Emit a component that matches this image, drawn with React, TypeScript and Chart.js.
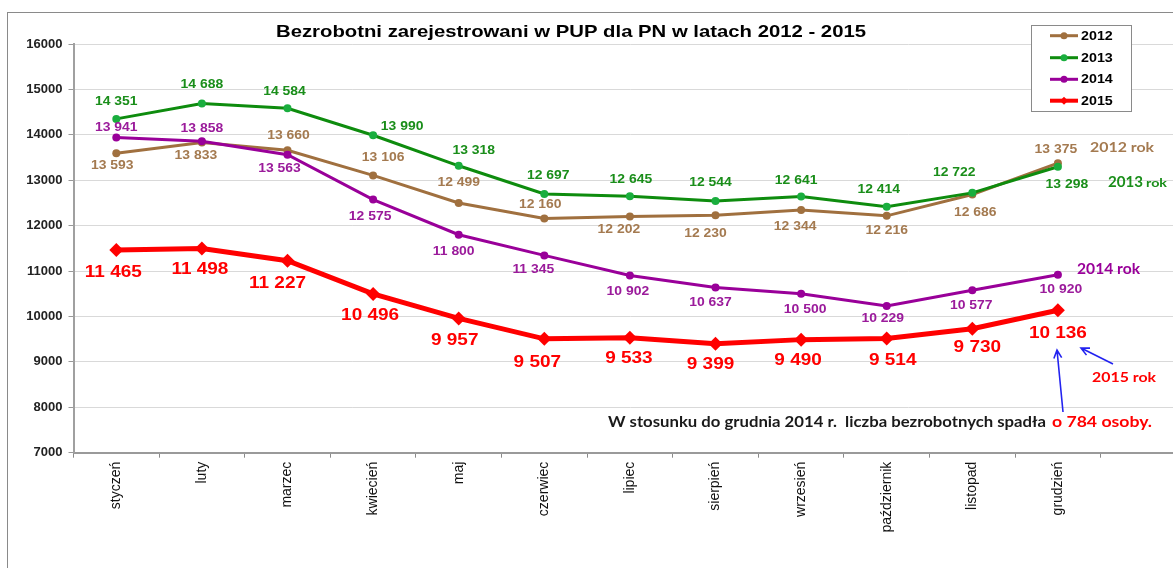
import React, { useEffect, useRef } from 'react';
import { Chart, registerables } from 'chart.js';

Chart.register(...registerables);

// ---------- data ----------
const months = ['styczeń', 'luty', 'marzec', 'kwiecień', 'maj', 'czerwiec', 'lipiec', 'sierpień', 'wrzesień', 'październik', 'listopad', 'grudzień'];
const axisLabels = [...months, ''];
const years = ['2012', '2013', '2014', '2015'];
const values2012 = [13593, 13833, 13660, 13106, 12499, 12160, 12202, 12230, 12344, 12216, 12686, 13375];
const values2013 = [14351, 14688, 14584, 13990, 13318, 12697, 12645, 12544, 12641, 12414, 12722, 13298];
const values2014 = [13941, 13858, 13563, 12575, 11800, 11345, 10902, 10637, 10500, 10229, 10577, 10920];
const values2015 = [11465, 11498, 11227, 10496, 9957, 9507, 9533, 9399, 9490, 9514, 9730, 10136];
const yMin = 7000;
const yMax = 16000;
const yStep = 1000;
const titleText = 'Bezrobotni zarejestrowani w PUP dla PN w latach 2012 - 2015';
const noteText = 'W stosunku do grudnia 2014 r.  liczba bezrobotnych spadła';
const noteRed = 'o 784 osoby.';

// label offsets (px) relative to each point
const offsets2012 = [[-4, 12], [-6, 13], [1, -15], [10, -18], [0, -20], [-4, -14], [-11, 13], [-10, 18], [-6, 17], [0, 15], [3, 18], [-2, -14]];
const offsets2013 = [[0, -17], [0, -19], [-3, -17], [29, -9], [15, -15], [4, -18], [1, -17], [-5, -18], [-5, -16], [-8, -17], [-18, -20], [9, 18]];
const offsets2014 = [[0, -10], [0, -13], [-8, 14], [-3, 17], [-5, 17], [-11, 14], [-2, 16], [-5, 15], [4, 16], [-4, 13], [-1, 15], [3, 15]];
const offsets2015 = [[-3, 23], [-2, 21], [-10, 23], [-3, 22], [-4, 22], [-7, 24], [-1, 21], [-5, 21], [-3, 21], [6, 22], [5, 19], [0, 23]];

// ---------- styles ----------
const FONT = '"Liberation Sans", Arial, sans-serif';
const FONT2 = 'Lato, "Open Sans", sans-serif';
const BROWN = '#A0703F';
const BROWN_L = '#A47A50';
const GREEN = '#0E8C0E';
const GREEN_M = '#1AAE3E';
const GREEN_L = '#1A8E1A';
const PURPLE = '#990099';
const PURPLE_L = '#9B1B9B';
const RED = '#FF0000';
const BLUE = '#2323F0';

const CW = 1200;
const CH = 568;

const fmt = (v: number) => {
  const k = Math.floor(v / 1000);
  const r = String(v % 1000).padStart(3, '0');
  return `${k} ${r}`;
};

function txt(ctx: CanvasRenderingContext2D, s: string, x: number, y: number, font: string, color: string, align: CanvasTextAlign = 'center', sx = 1) {
  ctx.save();
  ctx.translate(x, y);
  ctx.scale(sx, 1);
  ctx.font = font;
  ctx.fillStyle = color;
  ctx.textAlign = align;
  ctx.textBaseline = 'middle';
  ctx.fillText(s, 0, 0);
  ctx.restore();
}

function fit(ctx: CanvasRenderingContext2D, s: string, x0: number, x1: number, y: number, font: string, color: string) {
  ctx.save();
  ctx.font = font;
  const w = ctx.measureText(s).width;
  ctx.restore();
  txt(ctx, s, x0, y, font, color, 'left', (x1 - x0) / w);
}

function arrow(ctx: CanvasRenderingContext2D, x0: number, y0: number, x1: number, y1: number) {
  const a = Math.atan2(y1 - y0, x1 - x0);
  const h = 9;
  ctx.save();
  ctx.strokeStyle = BLUE;
  ctx.lineWidth = 1.6;
  ctx.beginPath();
  ctx.moveTo(x0, y0);
  ctx.lineTo(x1, y1);
  ctx.moveTo(x1 - h * Math.cos(a - 0.45), y1 - h * Math.sin(a - 0.45));
  ctx.lineTo(x1, y1);
  ctx.lineTo(x1 - h * Math.cos(a + 0.45), y1 - h * Math.sin(a + 0.45));
  ctx.stroke();
  ctx.restore();
}

const seriesLabelStyle = [
  { offsets: offsets2012, color: BROWN_L, font: `bold 12px ${FONT}`, sx: 1.16 },
  { offsets: offsets2013, color: GREEN_L, font: `bold 12px ${FONT}`, sx: 1.16 },
  { offsets: offsets2014, color: PURPLE_L, font: `bold 12px ${FONT}`, sx: 1.16 },
  { offsets: offsets2015, color: RED, font: `bold 16.5px ${FONT}`, sx: 1.15 },
];

const overlay = {
  id: 'overlay',
  beforeDraw(chart: any) {
    const ctx = chart.ctx as CanvasRenderingContext2D;
    ctx.save();
    ctx.fillStyle = '#fff';
    ctx.fillRect(0, 0, chart.width, chart.height);
    ctx.strokeStyle = '#8a8a8a';
    ctx.lineWidth = 1;
    ctx.strokeRect(7.5, 12.5, chart.width + 40, chart.height + 40);
    ctx.restore();
  },
  afterDatasetsDraw(chart: any) {
    const ctx = chart.ctx as CanvasRenderingContext2D;
    chart.data.datasets.forEach((ds: any, di: number) => {
      const st = seriesLabelStyle[di];
      const meta = chart.getDatasetMeta(di);
      meta.data.forEach((pt: any, i: number) => {
        const [dx, dy] = st.offsets[i];
        txt(ctx, fmt(ds.data[i]), pt.x + dx, pt.y + dy, st.font, st.color, 'center', st.sx);
      });
    });
  },
  afterDraw(chart: any) {
    const ctx = chart.ctx as CanvasRenderingContext2D;
    // title
    fit(ctx, titleText, 276, 866, 32.7, `bold 17px ${FONT}`, '#000');

    // legend
    ctx.save();
    ctx.fillStyle = '#fff';
    ctx.fillRect(1031.5, 25.5, 100, 86);
    ctx.strokeStyle = '#8a8a8a';
    ctx.lineWidth = 1;
    ctx.strokeRect(1031.5, 25.5, 100, 86);
    ctx.restore();
    const legY = [35.7, 57.7, 79.3, 100.7];
    const legCol = [BROWN, GREEN, PURPLE, RED];
    const legMark = [BROWN, GREEN_M, PURPLE, RED];
    years.forEach((yr, i) => {
      const y = legY[i];
      ctx.save();
      ctx.strokeStyle = legCol[i];
      ctx.lineWidth = i === 3 ? 4 : 3;
      ctx.beginPath();
      ctx.moveTo(1050, y);
      ctx.lineTo(1078, y);
      ctx.stroke();
      ctx.fillStyle = legMark[i];
      ctx.beginPath();
      if (i === 3) {
        ctx.moveTo(1064 - 4, y);
        ctx.lineTo(1064, y - 4);
        ctx.lineTo(1064 + 4, y);
        ctx.lineTo(1064, y + 4);
        ctx.closePath();
      } else {
        ctx.arc(1064, y, 3.5, 0, Math.PI * 2);
      }
      ctx.fill();
      ctx.restore();
      txt(ctx, yr, 1081, y + 0.5, `bold 13px ${FONT}`, '#000', 'left', 1.1);
    });

    // side annotations
    fit(ctx, '2012 rok', 1090, 1154, 147, `bold 14px ${FONT2}`, BROWN_L);
    fit(ctx, '2013', 1108, 1143, 181.7, `bold 15px ${FONT2}`, GREEN_L);
    fit(ctx, 'rok', 1146, 1167, 183, `bold 11px ${FONT2}`, GREEN_L);
    fit(ctx, '2014 rok', 1077, 1140, 269, `bold 15px ${FONT2}`, PURPLE);
    fit(ctx, '2015 rok', 1092, 1156, 377, `bold 14px ${FONT2}`, RED);

    // arrows
    arrow(ctx, 1063, 412, 1057, 350);
    arrow(ctx, 1113, 364, 1081, 348);

    // note
    fit(ctx, noteText, 608, 1046, 421.7, `bold 15px ${FONT2}`, '#1a1a1a');
    fit(ctx, noteRed, 1052, 1152, 421.7, `bold 15px ${FONT2}`, RED);
  },
};

export default function App() {
  const ref = useRef<HTMLCanvasElement | null>(null);

  useEffect(() => {
    if (!ref.current) return;
    const chart = new Chart(ref.current, {
      type: 'line',
      data: {
        labels: axisLabels,
        datasets: [
          {
            label: years[0], data: values2012, borderColor: BROWN, backgroundColor: BROWN,
            borderWidth: 3, pointRadius: 4, pointBorderWidth: 0, pointBackgroundColor: BROWN, tension: 0, order: 3,
          },
          {
            label: years[1], data: values2013, borderColor: GREEN, backgroundColor: GREEN_M,
            borderWidth: 3, pointRadius: 4, pointBorderWidth: 0, pointBackgroundColor: GREEN_M, tension: 0, order: 2,
          },
          {
            label: years[2], data: values2014, borderColor: PURPLE, backgroundColor: PURPLE,
            borderWidth: 3, pointRadius: 4, pointBorderWidth: 0, pointBackgroundColor: PURPLE, tension: 0, order: 1,
          },
          {
            label: years[3], data: values2015, borderColor: RED, backgroundColor: RED,
            borderWidth: 5, pointRadius: 7, pointStyle: 'rectRot', pointBorderWidth: 0, pointBackgroundColor: RED, tension: 0, order: 0,
          },
        ],
      },
      options: {
        animation: false,
        responsive: false,
        devicePixelRatio: 1,
        layout: { padding: { left: 0, top: 44, right: 13.7, bottom: 0 } },
        plugins: {
          legend: { display: false },
          title: { display: false },
          tooltip: { enabled: false },
        },
        events: [],
        scales: {
          x: {
            type: 'category',
            offset: true,
            grid: {
              display: true, drawOnChartArea: false, drawTicks: true, tickLength: 5, offset: true,
              color: '#8a8a8a', tickColor: '#8a8a8a', lineWidth: 1,
            },
            border: { display: true, color: '#9a9a9a', width: 2 },
            ticks: {
              autoSkip: false, minRotation: 90, maxRotation: 90, padding: 4, color: '#111',
              font: { family: FONT, size: 14 },
            },
            afterFit: (s: any) => { s.height = CH - 452.7; },
          },
          y: {
            min: yMin,
            max: yMax,
            ticks: {
              stepSize: yStep, padding: 6, color: '#222',
              font: { family: FONT, size: 13, weight: 'bold' },
              callback: (v: any) => String(v),
            },
            grid: { color: '#d9d9d9', lineWidth: 1, tickLength: 5, tickColor: '#999' },
            border: { display: true, color: '#a0a0a0', width: 2 },
            afterFit: (s: any) => { s.width = 73.5; },
          },
        },
      },
      plugins: [overlay],
    } as any);
    return () => chart.destroy();
  }, []);

  return (
    <div style={{ position: 'fixed', left: 0, top: 0, width: 1173, height: 568, overflow: 'hidden', background: '#fff' }}>
      <canvas ref={ref} width={CW} height={CH} style={{ width: CW, height: CH, display: 'block' }} />
    </div>
  );
}
